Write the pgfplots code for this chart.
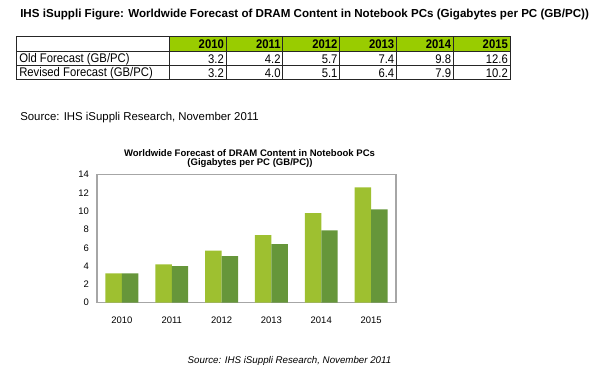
\documentclass[border=0pt]{standalone}
\usepackage{fontspec}
\setmainfont{Liberation Sans}
\usepackage{pgfplots}
\pgfplotsset{compat=1.18}
\definecolor{hdr}{HTML}{99CC00}
\definecolor{lg}{RGB}{158,192,48}
\definecolor{dg}{RGB}{102,150,58}
\newcommand{\tb}[1]{\scalebox{0.9}[1]{\fontsize{9.4}{10}\selectfont #1}}
\begin{document}
\begin{tikzpicture}[x=0.75pt,y=-0.75pt]
\path[use as bounding box] (0,0) rectangle (600,381);
\node[anchor=west,inner sep=0,font=\fontsize{8.7}{10}\selectfont\bfseries] at (20,15) {IHS iSuppli Figure: Worldwide Forecast of DRAM Content in Notebook PCs (Gigabytes per PC (GB/PC))};
% table
\fill[hdr] (169.3,36.7) rectangle (510,51.7);
\draw[black!85,line width=0.75pt] (16.7,36.7) rectangle (510,80);
\draw[black!85,line width=0.75pt] (16.7,51.7) -- (510,51.7) (16.7,65.7) -- (510,65.7);
\foreach \x in {169.3,226.1,282.9,339.7,396.5,453.3} {\draw[black!85,line width=0.75pt] (\x,36.7) -- (\x,80);}
\node[anchor=west,inner sep=0] at (19,58.9) {\tb{Old Forecast (GB/PC)}};
\node[anchor=west,inner sep=0] at (19,73) {\tb{Revised Forecast (GB/PC)}};
\foreach \yr/\o/\r [count=\i from 0] in {2010/3.2/3.2,2011/4.2/4.0,2012/5.7/5.1,2013/7.4/6.4,2014/9.8/7.9,2015/12.6/10.2} {
  \pgfmathsetmacro{\xr}{226.1+56.8*\i-2}
  \node[anchor=east,inner sep=0] at (\xr,44.4) {\tb{\bfseries\yr}};
  \node[anchor=east,inner sep=0] at (\xr,58.9) {\tb{\o}};
  \node[anchor=east,inner sep=0] at (\xr,73) {\tb{\r}};
}
\node[anchor=west,inner sep=0,font=\fontsize{8.55}{10}\selectfont] at (20,118) {Source: IHS iSuppli Research, November 2011};
% chart title
\node[inner sep=0,font=\fontsize{7.15}{8}\selectfont\bfseries] at (249.5,153) {Worldwide Forecast of DRAM Content in Notebook PCs};
\node[inner sep=0,font=\fontsize{7.15}{8}\selectfont\bfseries] at (250,163.5) {(Gigabytes per PC (GB/PC))};
\coordinate (sw) at (97,302.7);
\begin{axis}[at={(sw)},anchor=south west,
  width=224.25pt,height=96pt,scale only axis,
  xmin=-0.5,xmax=5.5,ymin=0,ymax=14,
  ytick={0,2,...,14},xtick={0,...,5},
  xticklabels={2010,2011,2012,2013,2014,2015},
  axis line style={draw=gray!70,line width=0.8pt},
  major tick length=0pt,
  tick label style={font=\fontsize{7.1}{8}\selectfont},
  /pgf/number format/assume math mode=true,
  yticklabel style={xshift=-2.5pt},
  xticklabel style={yshift=-7pt},
  ybar,bar width=0.33,
]
\addplot[fill=lg,draw=none,bar shift=-0.165] coordinates {(0,3.2)(1,4.2)(2,5.7)(3,7.4)(4,9.8)(5,12.6)};
\addplot[fill=dg,draw=none,bar shift=0.165] coordinates {(0,3.2)(1,4.0)(2,5.1)(3,6.4)(4,7.9)(5,10.2)};
\end{axis}
\node[inner sep=0,font=\fontsize{7.3}{8}\selectfont\itshape] at (289.5,360.7) {Source: IHS iSuppli Research, November 2011};
\end{tikzpicture}
\end{document}
